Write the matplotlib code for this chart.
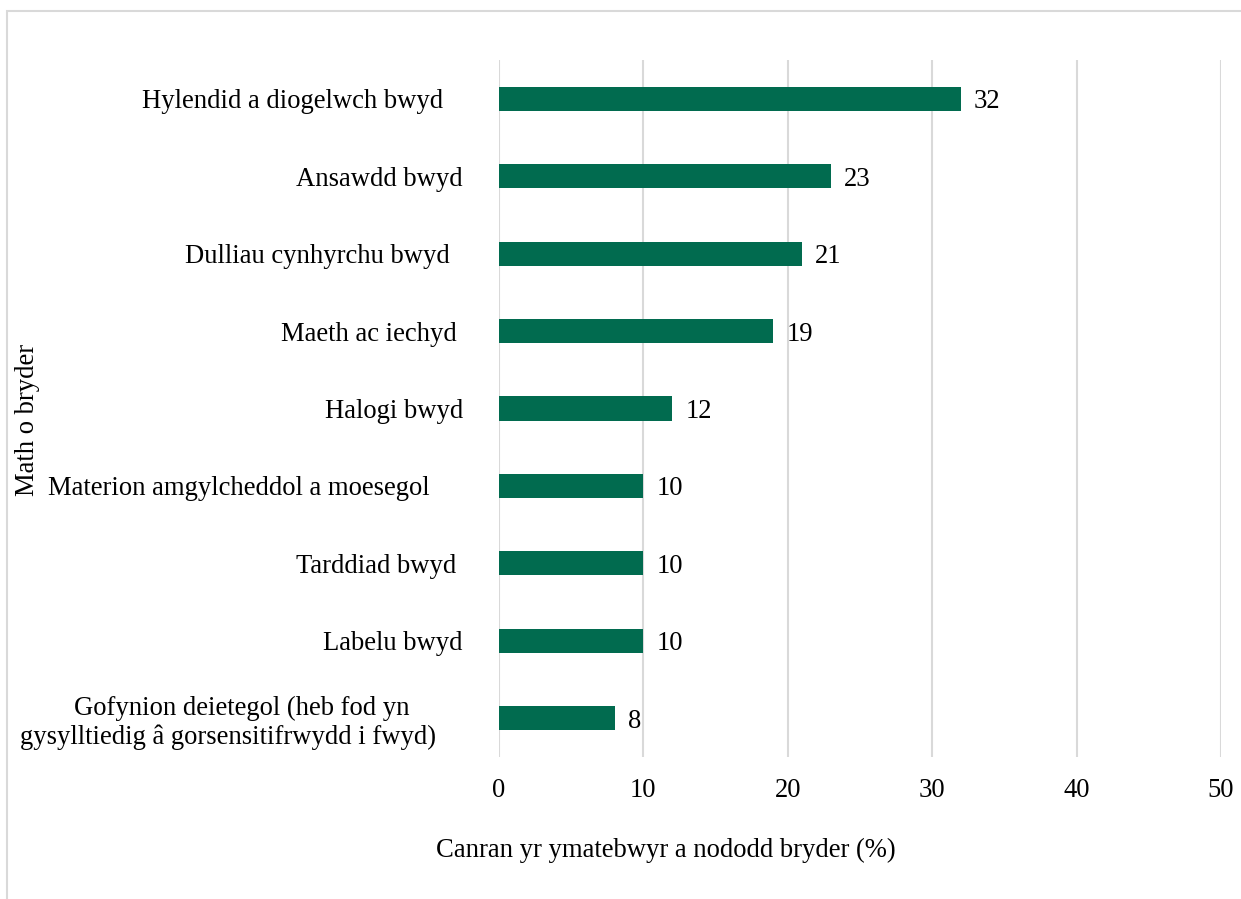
import matplotlib
matplotlib.use('Agg')
import matplotlib.pyplot as plt
from matplotlib.patches import Rectangle

# 关注类型 + 百分比 (从上到下)
categories = [
    'Hylendid a diogelwch bwyd   ',
    'Ansawdd bwyd',
    'Dulliau cynhyrchu bwyd  ',
    'Maeth ac iechyd ',
    'Halogi bwyd',
    'Materion amgylcheddol a moesegol     ',
    'Tarddiad bwyd ',
    'Labelu bwyd',
    'Gofynion deietegol (heb fod yn\ngysylltiedig â gorsensitifrwydd i fwyd)    ',
]
values = [32, 23, 21, 19, 12, 10, 10, 10, 8]
x_ticks = [0, 10, 20, 30, 40, 50]
x_label = 'Canran yr ymatebwyr a nododd bryder (%)'
y_label = 'Math o bryder'

bar_color = '#016B4F'
grid_color = '#D9D9D9'
fs = 19.2

plt.rcParams['font.family'] = ['Liberation Serif', 'DejaVu Serif']

fig = plt.figure(figsize=(12.41, 8.99), dpi=100)
# 外框
fig.patches.append(Rectangle((7 / 1241, -0.1), 1.2, 1.1 - 11 / 899, transform=fig.transFigure,
                             fill=False, edgecolor=grid_color, linewidth=1.5))

ax = fig.add_axes([499 / 1241, 1 - 757 / 899, 722 / 1241, 697 / 899])
index = range(len(values))
ax.barh(index, values, height=0.31, color=bar_color, zorder=3)
ax.set_ylim(len(values) - 0.5, -0.5)
ax.set_xlim(0, 50)
ax.set_xticks(x_ticks)
ax.set_yticks(list(index))
ax.set_yticklabels(categories, fontsize=fs, ha='right', multialignment='center')
ax.tick_params(axis='y', length=0, pad=26)
ax.tick_params(axis='x', length=0, pad=15, labelsize=fs)
ax.xaxis.grid(True, color=grid_color, linewidth=1.5, zorder=0)
for s in ax.spines.values():
    s.set_visible(False)

# 柱子右侧标注值
for y, v in enumerate(values):
    ax.text(v + 0.9, y, '%s' % v, va='center_baseline', ha='left', fontsize=fs)

ax.set_xlabel(x_label, fontsize=fs)
ax.xaxis.set_label_coords((666 - 499) / 722, -(838 - 757) / 697)
ax.set_ylabel(y_label, fontsize=fs)
ax.yaxis.set_label_coords(-(499 - 40) / 722, 1 - (420 - 60) / 697)

fig.savefig('out.png', dpi=100)
